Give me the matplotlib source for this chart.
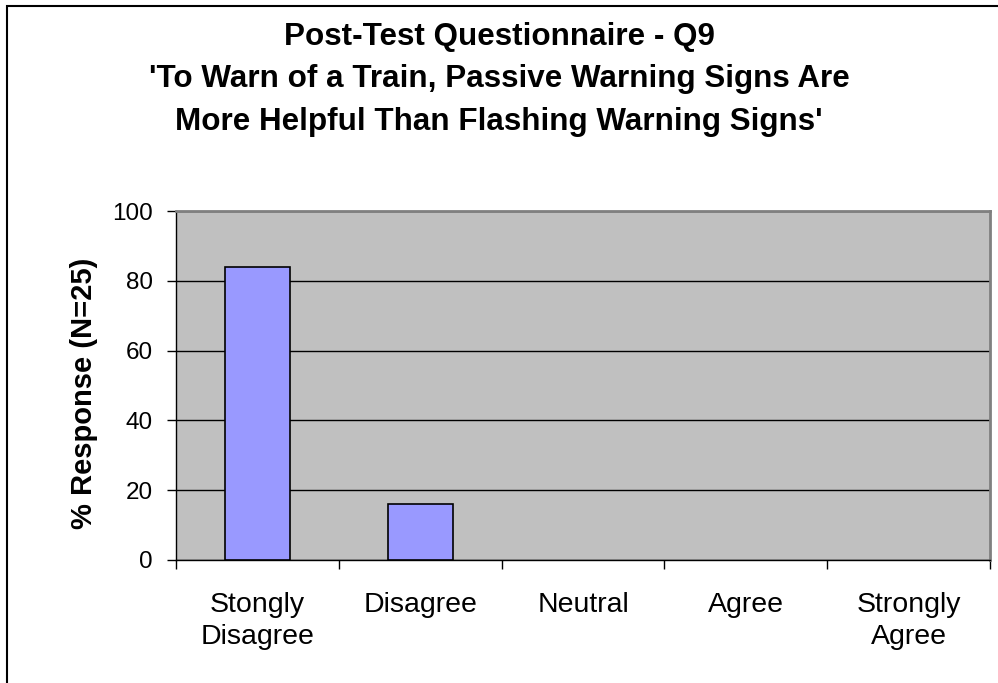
import numpy as np
import matplotlib
matplotlib.use("Agg")
import matplotlib.pyplot as plt
from matplotlib.patches import Rectangle

plt.rcParams["font.family"] = ["Liberation Sans", "DejaVu Sans"]

categories = ["Stongly\nDisagree", "Disagree", "Neutral", "Agree", "Strongly\nAgree"]
responses = [84, 16, 0, 0, 0]
yticks = [0, 20, 40, 60, 80, 100]
title_lines = ["Post-Test Questionnaire - Q9",
               "'To Warn of a Train, Passive Warning Signs Are",
               "More Helpful Than Flashing Warning Signs'"]

W, H = 998, 683
fig = plt.figure(figsize=(W / 100, H / 100), dpi=100)

# chart border (cropped on the right and bottom)
fig.patches.append(Rectangle((7 / W, -0.1), 1.2, 1 - 6 / H + 0.1,
                             transform=fig.transFigure, fill=False,
                             edgecolor="black", linewidth=1.5))

ax = fig.add_axes([176 / W, 1 - 560 / H, (990 - 176) / W, (560 - 211) / H])
ax.set_facecolor("#C0C0C0")

x = np.arange(len(categories))
vals = np.array(responses)
shown = vals > 0
ax.set_axisbelow(True)
ax.yaxis.grid(True, color="black", linewidth=1)
ax.bar(x[shown], vals[shown], width=0.4, color="#9999FF", edgecolor="black",
       linewidth=1.2, zorder=3)

ax.set_xlim(-0.5, len(categories) - 0.5)
ax.set_ylim(0, 100)
ax.set_yticks(yticks)
ax.set_xticks(np.arange(len(categories) + 1) - 0.5)
ax.set_xticklabels([])
ax.set_xticks(x, minor=True)
ax.set_xticklabels(categories, minor=True, fontsize=20.5, linespacing=1.28)
ax.tick_params(axis="x", which="minor", length=0, pad=23)
ax.tick_params(axis="x", which="major", length=6.5, width=1, direction="out")
ax.tick_params(axis="y", length=6.5, width=1, direction="out", labelsize=17.5, pad=10)

for side in ["top", "right"]:
    ax.spines[side].set_color("#808080")
    ax.spines[side].set_linewidth(2)
ax.spines["left"].set_color("black")
ax.spines["bottom"].set_color("black")
ax.spines["left"].set_linewidth(1)
ax.spines["bottom"].set_linewidth(1)

ax.set_ylabel("% Response (N=25)", fontsize=21, fontweight="bold", labelpad=10)
ax.yaxis.label.set_y(0.5 - 8 / 349)

for i, line in enumerate(title_lines):
    fig.text(0.5, 1 - (37 + 42.5 * i) / H, line, ha="center", va="center",
             fontsize=22.6, fontweight="bold")

fig.savefig("out.png", dpi=100)
